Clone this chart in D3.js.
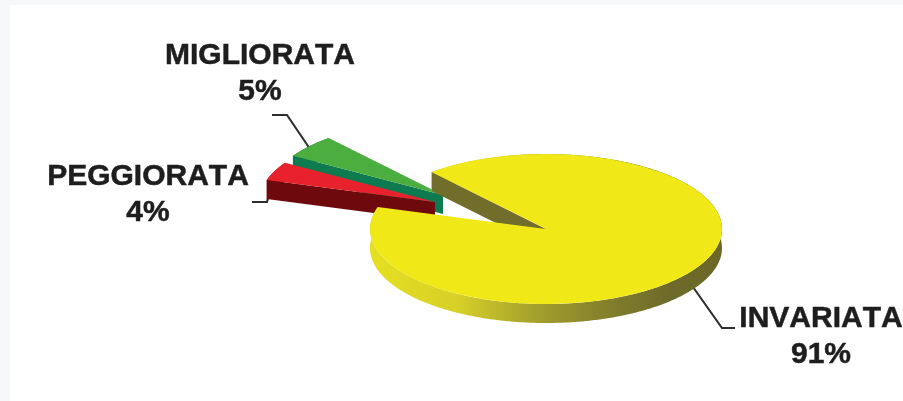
<!DOCTYPE html>
<html>
<head>
<meta charset="utf-8">
<script src="https://cdn.jsdelivr.net/npm/d3@7"></script>
<style>
html,body{margin:0;padding:0;background:#f7f8fa;overflow:hidden}
svg{display:block;filter:blur(0.7px)}
text{font-family:"Liberation Sans",Arial,sans-serif;font-weight:700;font-size:30px;fill:#1e1e1e;stroke:#1e1e1e;stroke-width:0.5px;text-anchor:middle;font-kerning:none}
</style>
</head>
<body>
<svg id="chart" width="903" height="401"></svg>
<script>
const categories = ["INVARIATA", "PEGGIORATA", "MIGLIORATA"];
const values = [91, 4, 5];
const topColors = ["#f1e818", "#e8222c", "#4cae3e"];
const wallColors = ["#716d2a", "#6e0a0e", "#0e7a50"];
const explode = [[0, 0], [-111, -27], [-103, -34]];
const labelAnchors = [[821, 327], [148, 185], [260, 64]];
const leaderLines = [
  [[693, 287], [722, 328], [735, 328]],
  [[252, 202], [267, 202], [273, 180]],
  [[272, 115], [287, 115], [310, 149]]
];

const W = 903, H = 401, cx = 546, cy = 229, rx = 176, ry = 75, depth = 19;
const svg = d3.select("#chart");
svg.append("rect").attr("x", 10).attr("y", 5).attr("width", W - 10).attr("height", H - 5).attr("fill", "#ffffff");

const defs = svg.append("defs");
const grad = defs.append("linearGradient").attr("id", "rimYellow").attr("gradientUnits", "userSpaceOnUse")
  .attr("x1", -rx).attr("x2", rx).attr("y1", 0).attr("y2", 0);
[["0%", "#e6e020"], ["25%", "#d6d028"], ["45%", "#a8a42c"], ["65%", "#86822c"], ["85%", "#6e6a2a"], ["100%", "#6c6828"]]
  .forEach(s => grad.append("stop").attr("offset", s[0]).attr("stop-color", s[1]));

const startA = -40.5 * Math.PI / 180;
const pie = d3.pie().sort(null).startAngle(startA).endAngle(startA + 2 * Math.PI);
const arcs = pie(values);
const arcGen = d3.arc().innerRadius(0).outerRadius(rx);
const line = d3.line();
const sx = d3.scaleLinear().domain([-1, 1]).range([-rx, rx]);
const sy = d3.scaleLinear().domain([-1, 1]).range([-ry, ry]);
const pt = a => [sx(Math.sin(a)), sy(-Math.cos(a))];

function rimPath(d) {
  const angles = d3.range(d.startAngle, d.endAngle, 0.01).concat(d.endAngle);
  const top = angles.map(pt);
  const bottom = top.map(p => [p[0], p[1] + depth]).reverse();
  return line(top.concat(bottom)) + "Z";
}
function wallPath(a) {
  const p = pt(a);
  return line([[0, 0], p, [p[0], p[1] + depth], [0, depth]]) + "Z";
}

// leader lines sit behind the slices
leaderLines.forEach(l => {
  svg.append("path").attr("d", line(l)).attr("fill", "none").attr("stroke", "#2e2e2e").attr("stroke-width", 2.1);
});

// painter's order: green, red, yellow; within a slice rim, then cut wall, then top
[2, 1, 0].forEach(i => {
  const d = arcs[i];
  const g = svg.append("g").attr("transform", `translate(${cx + explode[i][0]},${cy + explode[i][1]})`);
  g.append("path").attr("d", rimPath(d)).attr("fill", i === 0 ? "url(#rimYellow)" : wallColors[i]);
  g.append("path").attr("d", wallPath(d.startAngle)).attr("fill", wallColors[i]);
  g.append("path").attr("d", arcGen(d)).attr("transform", `scale(1,${ry / rx})`).attr("fill", topColors[i]);
});

categories.forEach((c, i) => {
  svg.append("text").attr("x", labelAnchors[i][0]).attr("y", labelAnchors[i][1]).text(c);
  svg.append("text").attr("x", labelAnchors[i][0]).attr("y", labelAnchors[i][1] + 36).text(values[i] + "%");
});
</script>
</body>
</html>
